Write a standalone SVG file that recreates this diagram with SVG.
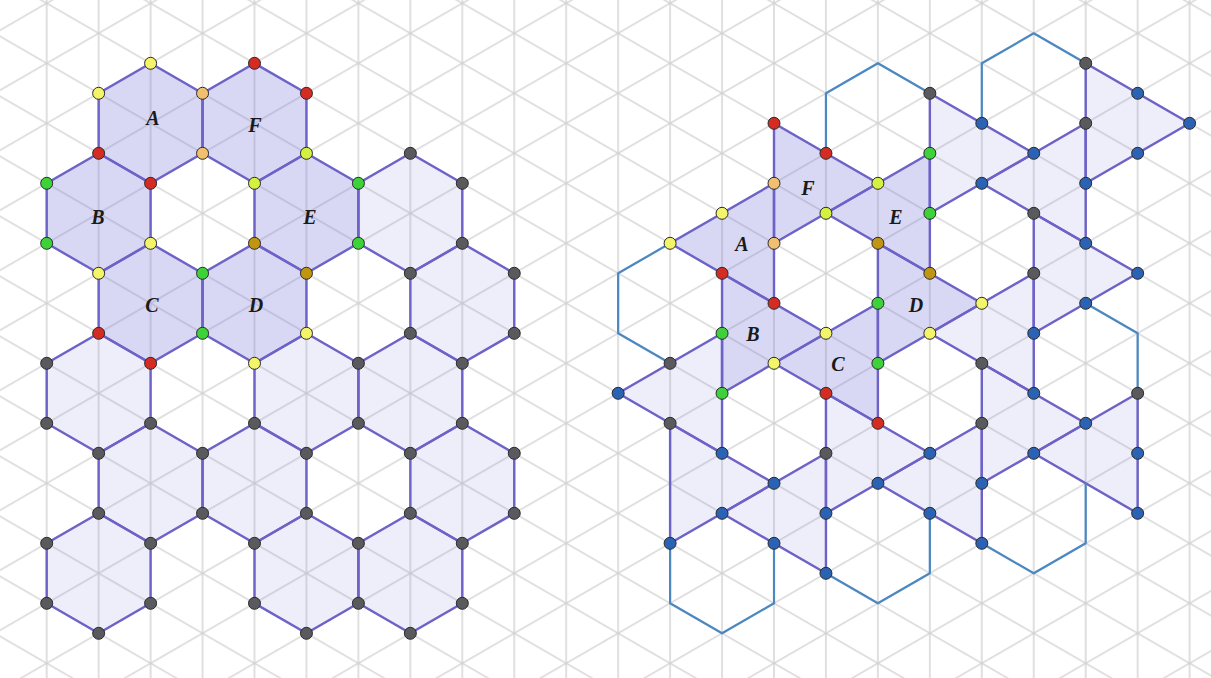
<svg xmlns="http://www.w3.org/2000/svg" width="1211" height="678" viewBox="0 0 1211 678">
<style>
.dk{fill:#7474d8;fill-opacity:0.28;stroke:#6c62c8;stroke-width:2.4;stroke-linejoin:round}
.lt{fill:#7474d8;fill-opacity:0.12;stroke:#6c62c8;stroke-width:2.4;stroke-linejoin:round}
.ol{fill:none;stroke:#4b88c2;stroke-width:2.2;stroke-linejoin:round}
.lbl{font-family:"Liberation Serif",serif;font-style:italic;font-weight:bold;font-size:20px;fill:#1a1a1a;text-anchor:middle}
circle{stroke:#2a2a2a;stroke-width:1;r:6}
.r{fill:#d42b22}.t{fill:#f0c070}.y{fill:#f4f46a}.l{fill:#d4f040}.g{fill:#3ed23a}.d{fill:#c09512}.k{fill:#5a5a5e}.b{fill:#2a62b5}
</style>
<defs>
<pattern id="grid" patternUnits="userSpaceOnUse" x="46.7" y="63.3" width="103.9" height="60">
<g stroke="#d2d2d2" stroke-width="1.4" fill="none">
<line x1="0" y1="-5" x2="0" y2="65"/><line x1="51.95" y1="-5" x2="51.95" y2="65"/><line x1="103.9" y1="-5" x2="103.9" y2="65"/>
<line x1="-51.95" y1="-30" x2="155.85" y2="90"/><line x1="-51.95" y1="-90" x2="155.85" y2="30"/><line x1="-51.95" y1="30" x2="155.85" y2="150"/>
<line x1="-51.95" y1="90" x2="155.85" y2="-30"/><line x1="-51.95" y1="30" x2="155.85" y2="-90"/><line x1="-51.95" y1="150" x2="155.85" y2="30"/>
</g>
</pattern>
</defs>
<rect width="1211" height="678" fill="#ffffff"/>
<rect width="1211" height="678" fill="url(#grid)"/>

<g id="left-tiling">
<g id="hex-l1"><polygon class="lt" points="410.35,153.3 462.3,183.3 462.3,243.3 410.35,273.3 358.4,243.3 358.4,183.3"/></g>
<g id="hex-l2"><polygon class="lt" points="462.3,243.3 514.25,273.3 514.25,333.3 462.3,363.3 410.35,333.3 410.35,273.3"/></g>
<g id="hex-l3"><polygon class="lt" points="98.65,333.3 150.6,363.3 150.6,423.3 98.65,453.3 46.7,423.3 46.7,363.3"/></g>
<g id="hex-l4"><polygon class="lt" points="306.45,333.3 358.4,363.3 358.4,423.3 306.45,453.3 254.5,423.3 254.5,363.3"/></g>
<g id="hex-l5"><polygon class="lt" points="410.35,333.3 462.3,363.3 462.3,423.3 410.35,453.3 358.4,423.3 358.4,363.3"/></g>
<g id="hex-l6"><polygon class="lt" points="150.6,423.3 202.55,453.3 202.55,513.3 150.6,543.3 98.65,513.3 98.65,453.3"/></g>
<g id="hex-l7"><polygon class="lt" points="254.5,423.3 306.45,453.3 306.45,513.3 254.5,543.3 202.55,513.3 202.55,453.3"/></g>
<g id="hex-l8"><polygon class="lt" points="462.3,423.3 514.25,453.3 514.25,513.3 462.3,543.3 410.35,513.3 410.35,453.3"/></g>
<g id="hex-l9"><polygon class="lt" points="98.65,513.3 150.6,543.3 150.6,603.3 98.65,633.3 46.7,603.3 46.7,543.3"/></g>
<g id="hex-l10"><polygon class="lt" points="306.45,513.3 358.4,543.3 358.4,603.3 306.45,633.3 254.5,603.3 254.5,543.3"/></g>
<g id="hex-l11"><polygon class="lt" points="410.35,513.3 462.3,543.3 462.3,603.3 410.35,633.3 358.4,603.3 358.4,543.3"/></g>
<g id="hex-A"><polygon class="dk" points="150.6,63.3 202.55,93.3 202.55,153.3 150.6,183.3 98.65,153.3 98.65,93.3"/><text class="lbl" x="153" y="125">A</text></g>
<g id="hex-F"><polygon class="dk" points="254.5,63.3 306.45,93.3 306.45,153.3 254.5,183.3 202.55,153.3 202.55,93.3"/><text class="lbl" x="255" y="132">F</text></g>
<g id="hex-B"><polygon class="dk" points="98.65,153.3 150.6,183.3 150.6,243.3 98.65,273.3 46.7,243.3 46.7,183.3"/><text class="lbl" x="98" y="224">B</text></g>
<g id="hex-E"><polygon class="dk" points="306.45,153.3 358.4,183.3 358.4,243.3 306.45,273.3 254.5,243.3 254.5,183.3"/><text class="lbl" x="310" y="224">E</text></g>
<g id="hex-C"><polygon class="dk" points="150.6,243.3 202.55,273.3 202.55,333.3 150.6,363.3 98.65,333.3 98.65,273.3"/><text class="lbl" x="152" y="312">C</text></g>
<g id="hex-D"><polygon class="dk" points="254.5,243.3 306.45,273.3 306.45,333.3 254.5,363.3 202.55,333.3 202.55,273.3"/><text class="lbl" x="256" y="312">D</text></g>
</g>

<g id="right-tiling">
<g id="tri-1"><polygon class="lt" points="929.85,93.3 1033.75,153.3 929.85,213.3"/></g>
<g id="tri-2"><polygon class="lt" points="1085.7,123.3 1085.7,243.3 981.8,183.3"/></g>
<g id="tri-3"><polygon class="lt" points="1085.7,63.3 1189.6,123.3 1085.7,183.3"/></g>
<g id="tri-4"><polygon class="lt" points="825.95,393.3 929.85,453.3 825.95,513.3"/></g>
<g id="tri-5"><polygon class="lt" points="1033.75,273.3 1033.75,393.3 929.85,333.3"/></g>
<g id="tri-6"><polygon class="lt" points="1033.75,213.3 1137.65,273.3 1033.75,333.3"/></g>
<g id="tri-7"><polygon class="lt" points="981.8,423.3 981.8,543.3 877.9,483.3"/></g>
<g id="tri-8"><polygon class="lt" points="981.8,363.3 1085.7,423.3 981.8,483.3"/></g>
<g id="tri-9"><polygon class="lt" points="722.05,333.3 722.05,453.3 618.15,393.3"/></g>
<g id="tri-10"><polygon class="lt" points="670.1,423.3 774,483.3 670.1,543.3"/></g>
<g id="tri-11"><polygon class="lt" points="825.95,453.3 825.95,573.3 722.05,513.3"/></g>
<g id="tri-12"><polygon class="lt" points="1137.65,393.3 1137.65,513.3 1033.75,453.3"/></g>
<g id="tri-F"><polygon class="dk" points="774,123.3 877.9,183.3 774,243.3"/><text class="lbl" x="808" y="195">F</text></g>
<g id="tri-E"><polygon class="dk" points="929.85,153.3 929.85,273.3 825.95,213.3"/><text class="lbl" x="896" y="224">E</text></g>
<g id="tri-A"><polygon class="dk" points="774,183.3 774,303.3 670.1,243.3"/><text class="lbl" x="742" y="251">A</text></g>
<g id="tri-B"><polygon class="dk" points="722.05,273.3 825.95,333.3 722.05,393.3"/><text class="lbl" x="753" y="341">B</text></g>
<g id="tri-C"><polygon class="dk" points="877.9,303.3 877.9,423.3 774,363.3"/><text class="lbl" x="838" y="371">C</text></g>
<g id="tri-D"><polygon class="dk" points="877.9,243.3 981.8,303.3 877.9,363.3"/><text class="lbl" x="916" y="312">D</text></g>
</g>

<g id="outlines">
<polyline class="ol" points="825.95,153.3 825.95,93.3 877.9,63.3 929.85,93.3"/>
<polyline class="ol" points="981.8,123.3 981.8,63.3 1033.75,33.3 1085.7,63.3"/>
<polyline class="ol" points="670.1,243.3 618.15,273.3 618.15,333.3 670.1,363.3"/>
<polyline class="ol" points="1085.7,303.3 1137.65,333.3 1137.65,393.3"/>
<polyline class="ol" points="774,543.3 774,603.3 722.05,633.3 670.1,603.3 670.1,543.3"/>
<polyline class="ol" points="929.85,513.3 929.85,573.3 877.9,603.3 825.95,573.3"/>
<polyline class="ol" points="1085.7,483.3 1085.7,543.3 1033.75,573.3 981.8,543.3"/>
</g>

<g id="vertices">
<circle class="y" cx="150.6" cy="63.3"/><circle class="y" cx="98.65" cy="93.3"/><circle class="y" cx="150.6" cy="243.3"/><circle class="y" cx="98.65" cy="273.3"/><circle class="y" cx="306.45" cy="333.3"/><circle class="y" cx="254.5" cy="363.3"/>
<circle class="t" cx="202.55" cy="93.3"/><circle class="t" cx="202.55" cy="153.3"/>
<circle class="r" cx="254.5" cy="63.3"/><circle class="r" cx="306.45" cy="93.3"/><circle class="r" cx="98.65" cy="153.3"/><circle class="r" cx="150.6" cy="183.3"/><circle class="r" cx="98.65" cy="333.3"/><circle class="r" cx="150.6" cy="363.3"/>
<circle class="l" cx="306.45" cy="153.3"/><circle class="l" cx="254.5" cy="183.3"/>
<circle class="g" cx="46.7" cy="183.3"/><circle class="g" cx="46.7" cy="243.3"/><circle class="g" cx="358.4" cy="183.3"/><circle class="g" cx="358.4" cy="243.3"/><circle class="g" cx="202.55" cy="273.3"/><circle class="g" cx="202.55" cy="333.3"/>
<circle class="d" cx="254.5" cy="243.3"/><circle class="d" cx="306.45" cy="273.3"/>
<circle class="k" cx="410.35" cy="153.3"/><circle class="k" cx="462.3" cy="183.3"/><circle class="k" cx="462.3" cy="243.3"/><circle class="k" cx="410.35" cy="273.3"/><circle class="k" cx="514.25" cy="273.3"/><circle class="k" cx="514.25" cy="333.3"/><circle class="k" cx="462.3" cy="363.3"/><circle class="k" cx="410.35" cy="333.3"/>
<circle class="k" cx="46.7" cy="363.3"/><circle class="k" cx="46.7" cy="423.3"/><circle class="k" cx="98.65" cy="453.3"/><circle class="k" cx="150.6" cy="423.3"/><circle class="k" cx="254.5" cy="423.3"/><circle class="k" cx="306.45" cy="453.3"/><circle class="k" cx="358.4" cy="363.3"/><circle class="k" cx="358.4" cy="423.3"/><circle class="k" cx="462.3" cy="423.3"/><circle class="k" cx="410.35" cy="453.3"/>
<circle class="k" cx="202.55" cy="453.3"/><circle class="k" cx="202.55" cy="513.3"/><circle class="k" cx="150.6" cy="543.3"/><circle class="k" cx="98.65" cy="513.3"/><circle class="k" cx="306.45" cy="513.3"/><circle class="k" cx="254.5" cy="543.3"/><circle class="k" cx="514.25" cy="453.3"/><circle class="k" cx="514.25" cy="513.3"/><circle class="k" cx="462.3" cy="543.3"/><circle class="k" cx="410.35" cy="513.3"/>
<circle class="k" cx="46.7" cy="543.3"/><circle class="k" cx="46.7" cy="603.3"/><circle class="k" cx="98.65" cy="633.3"/><circle class="k" cx="150.6" cy="603.3"/><circle class="k" cx="254.5" cy="603.3"/><circle class="k" cx="306.45" cy="633.3"/><circle class="k" cx="358.4" cy="543.3"/><circle class="k" cx="358.4" cy="603.3"/><circle class="k" cx="462.3" cy="603.3"/><circle class="k" cx="410.35" cy="633.3"/>

<circle class="r" cx="774" cy="123.3"/><circle class="r" cx="825.95" cy="153.3"/><circle class="r" cx="722.05" cy="273.3"/><circle class="r" cx="774" cy="303.3"/><circle class="r" cx="825.95" cy="393.3"/><circle class="r" cx="877.9" cy="423.3"/>
<circle class="t" cx="774" cy="183.3"/><circle class="t" cx="774" cy="243.3"/>
<circle class="l" cx="877.9" cy="183.3"/><circle class="l" cx="825.95" cy="213.3"/>
<circle class="y" cx="722.05" cy="213.3"/><circle class="y" cx="670.1" cy="243.3"/><circle class="y" cx="825.95" cy="333.3"/><circle class="y" cx="774" cy="363.3"/><circle class="y" cx="981.8" cy="303.3"/><circle class="y" cx="929.85" cy="333.3"/>
<circle class="g" cx="929.85" cy="153.3"/><circle class="g" cx="929.85" cy="213.3"/><circle class="g" cx="877.9" cy="303.3"/><circle class="g" cx="877.9" cy="363.3"/><circle class="g" cx="722.05" cy="333.3"/><circle class="g" cx="722.05" cy="393.3"/>
<circle class="d" cx="877.9" cy="243.3"/><circle class="d" cx="929.85" cy="273.3"/>
<circle class="k" cx="929.85" cy="93.3"/><circle class="k" cx="1085.7" cy="63.3"/><circle class="k" cx="1085.7" cy="123.3"/><circle class="k" cx="1033.75" cy="213.3"/><circle class="k" cx="1033.75" cy="273.3"/><circle class="k" cx="981.8" cy="363.3"/><circle class="k" cx="981.8" cy="423.3"/><circle class="k" cx="670.1" cy="363.3"/><circle class="k" cx="670.1" cy="423.3"/><circle class="k" cx="825.95" cy="453.3"/><circle class="k" cx="1137.65" cy="393.3"/>
<circle class="b" cx="981.8" cy="123.3"/><circle class="b" cx="1137.65" cy="93.3"/><circle class="b" cx="1189.6" cy="123.3"/><circle class="b" cx="1033.75" cy="153.3"/><circle class="b" cx="1137.65" cy="153.3"/><circle class="b" cx="981.8" cy="183.3"/><circle class="b" cx="1085.7" cy="183.3"/><circle class="b" cx="1085.7" cy="243.3"/><circle class="b" cx="1137.65" cy="273.3"/><circle class="b" cx="1085.7" cy="303.3"/>
<circle class="b" cx="1033.75" cy="333.3"/><circle class="b" cx="1033.75" cy="393.3"/><circle class="b" cx="1085.7" cy="423.3"/><circle class="b" cx="929.85" cy="453.3"/><circle class="b" cx="1033.75" cy="453.3"/><circle class="b" cx="1137.65" cy="453.3"/><circle class="b" cx="981.8" cy="483.3"/><circle class="b" cx="877.9" cy="483.3"/><circle class="b" cx="929.85" cy="513.3"/><circle class="b" cx="981.8" cy="543.3"/>
<circle class="b" cx="1137.65" cy="513.3"/><circle class="b" cx="618.15" cy="393.3"/><circle class="b" cx="722.05" cy="453.3"/><circle class="b" cx="774" cy="483.3"/><circle class="b" cx="722.05" cy="513.3"/><circle class="b" cx="670.1" cy="543.3"/><circle class="b" cx="774" cy="543.3"/><circle class="b" cx="825.95" cy="513.3"/><circle class="b" cx="825.95" cy="573.3"/>
</g>
</svg>
